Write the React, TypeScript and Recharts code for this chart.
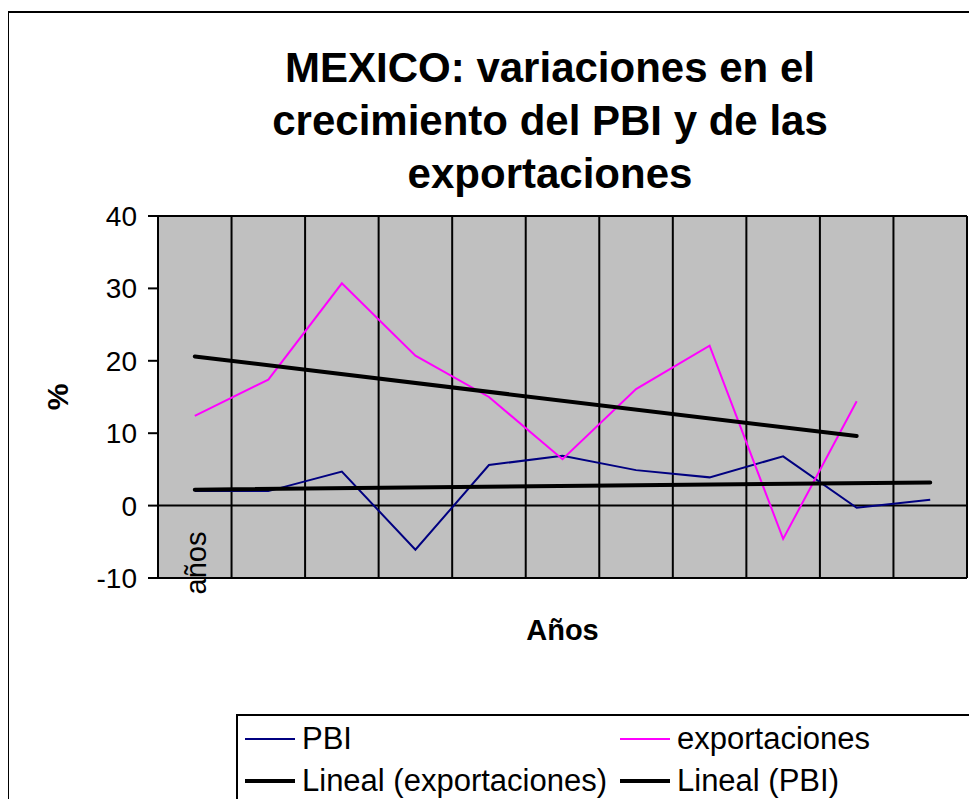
import React from 'react';
import {
  LineChart,
  Line,
  XAxis,
  YAxis,
  CartesianGrid,
  ReferenceLine,
  Label,
} from 'recharts';

// category labels (only the first one is shown in the original)
const categories = ['años', '', '', '', '', '', '', '', '', '', ''];

// % growth
const pbi = [2.0, 2.0, 4.7, -6.1, 5.6, 6.9, 4.9, 3.9, 6.8, -0.3, 0.8];
const exportaciones = [12.4, 17.4, 30.7, 20.7, 15.0, 6.4, 16.1, 22.1, -4.6, 14.4, null];

// Excel linear trendlines: only the end points are needed
const trendExport = [20.6, null, null, null, null, null, null, null, null, 9.6, null];
const trendPbi = [2.2, null, null, null, null, null, null, null, null, null, 3.2];

const yTicks = [-10, 0, 10, 20, 30, 40];

const legendItems = [
  { name: 'PBI', color: '#000080', width: 2 },
  { name: 'exportaciones', color: '#FF00FF', width: 2 },
  { name: 'Lineal (exportaciones)', color: '#000000', width: 4 },
  { name: 'Lineal (PBI)', color: '#000000', width: 4 },
];

const FONT = '"Liberation Sans", Arial, sans-serif';

const data = categories.map((c, i) => ({
  idx: i,
  label: c,
  pbi: pbi[i],
  exportaciones: exportaciones[i],
  trendExport: trendExport[i],
  trendPbi: trendPbi[i],
}));

const CategoryTick = (props: any) => {
  const { x, y, payload } = props;
  const text = categories[payload.value];
  if (!text) return null;
  const cx = x + 1;
  const cy = y - 15;
  return (
    <text
      x={cx}
      y={cy}
      transform={`rotate(-90 ${cx} ${cy})`}
      textAnchor="middle"
      dominantBaseline="central"
      fontFamily={FONT}
      fontSize={29}
      fill="#000"
    >
      {text}
    </text>
  );
};

const App: React.FC = () => {
  return (
    <div
      style={{
        position: 'relative',
        width: 969,
        height: 791,
        overflow: 'hidden',
        fontFamily: FONT,
      }}
    >
      {/* chart frame */}
      <div
        style={{
          position: 'absolute',
          left: -1,
          top: 3,
          width: 2000,
          height: 2000,
          border: '2px solid #000',
        }}
      />

      <div
        style={{
          position: 'absolute',
          left: 242,
          top: 33,
          width: 600,
          textAlign: 'center',
          fontSize: 42,
          fontWeight: 'bold',
          lineHeight: '53px',
        }}
      >
        MEXICO: variaciones en el
        <br />
        crecimiento del PBI y de las
        <br />
        exportaciones
      </div>

      <div style={{ position: 'absolute', left: 0, top: 0 }}>
        <LineChart
          width={969}
          height={791}
          data={data}
          margin={{ top: 208, right: 10, bottom: 0, left: 0 }}
        >
          <CartesianGrid
            fill="#C0C0C0"
            fillOpacity={1}
            stroke="#000"
            strokeWidth={2}
            verticalCoordinatesGenerator={({ offset }: any) =>
              categories
                .concat([''])
                .map((_, i) => offset.left + (i * offset.width) / categories.length)
            }
            horizontalCoordinatesGenerator={({ offset }: any) => [
              offset.top,
              offset.top + offset.height,
            ]}
          />
          <XAxis
            dataKey="idx"
            type="category"
            scale="band"
            height={221}
            axisLine={false}
            tickLine={false}
            tickSize={0}
            tickMargin={0}
            interval={0}
            tick={<CategoryTick />}
          >
            <Label
              content={(p: any) => {
                const vb = p.viewBox;
                return (
                  <text
                    x={vb.x + vb.width / 2}
                    y={vb.y + 62}
                    textAnchor="middle"
                    fontFamily={FONT}
                    fontSize={29}
                    fontWeight="bold"
                    fill="#000"
                  >
                    Años
                  </text>
                );
              }}
            />
          </XAxis>
          <YAxis
            width={150}
            domain={[-10, 40]}
            ticks={yTicks}
            interval={0}
            axisLine={{ stroke: '#000', strokeWidth: 2 }}
            tickLine={{ stroke: '#000', strokeWidth: 2 }}
            tickSize={10}
            tickMargin={11}
            tick={{ fill: '#000', fontSize: 28, fontFamily: FONT }}
          >
            <Label
              content={(p: any) => {
                const vb = p.viewBox;
                const cx = vb.x + 49;
                const cy = vb.y + vb.height / 2;
                return (
                  <text
                    x={cx}
                    y={cy}
                    transform={`rotate(-90 ${cx} ${cy})`}
                    textAnchor="middle"
                    dominantBaseline="central"
                    fontFamily={FONT}
                    fontSize={30}
                    fontWeight="bold"
                    fill="#000"
                  >
                    %
                  </text>
                );
              }}
            />
          </YAxis>
          <ReferenceLine y={0} stroke="#000" strokeWidth={2} />
          <Line
            dataKey="pbi"
            stroke="#000080"
            strokeWidth={2}
            dot={false}
            activeDot={false}
            isAnimationActive={false}
          />
          <Line
            dataKey="exportaciones"
            stroke="#FF00FF"
            strokeWidth={2}
            dot={false}
            activeDot={false}
            isAnimationActive={false}
          />
          <Line
            dataKey="trendExport"
            stroke="#000"
            strokeWidth={4}
            strokeLinecap="round"
            connectNulls
            dot={false}
            activeDot={false}
            isAnimationActive={false}
          />
          <Line
            dataKey="trendPbi"
            stroke="#000"
            strokeWidth={4}
            strokeLinecap="round"
            connectNulls
            dot={false}
            activeDot={false}
            isAnimationActive={false}
          />
        </LineChart>
      </div>

      {/* legend box */}
      <div
        style={{
          position: 'absolute',
          left: 228,
          top: 706,
          width: 2000,
          height: 2000,
          border: '2px solid #000',
          background: '#fff',
        }}
      />
      {legendItems.map((it, i) => {
        const col = i % 2;
        const row = Math.floor(i / 2);
        return (
          <div
            key={it.name}
            style={{
              position: 'absolute',
              left: col === 0 ? 237 : 612,
              top: 714 + row * 42,
              height: 34,
              display: 'flex',
              alignItems: 'center',
              fontSize: 31,
              whiteSpace: 'nowrap',
            }}
          >
            <span
              style={{
                display: 'inline-block',
                width: 50,
                height: it.width,
                background: it.color,
                marginRight: 7,
              }}
            />
            {it.name}
          </div>
        );
      })}
    </div>
  );
};

export default App;
